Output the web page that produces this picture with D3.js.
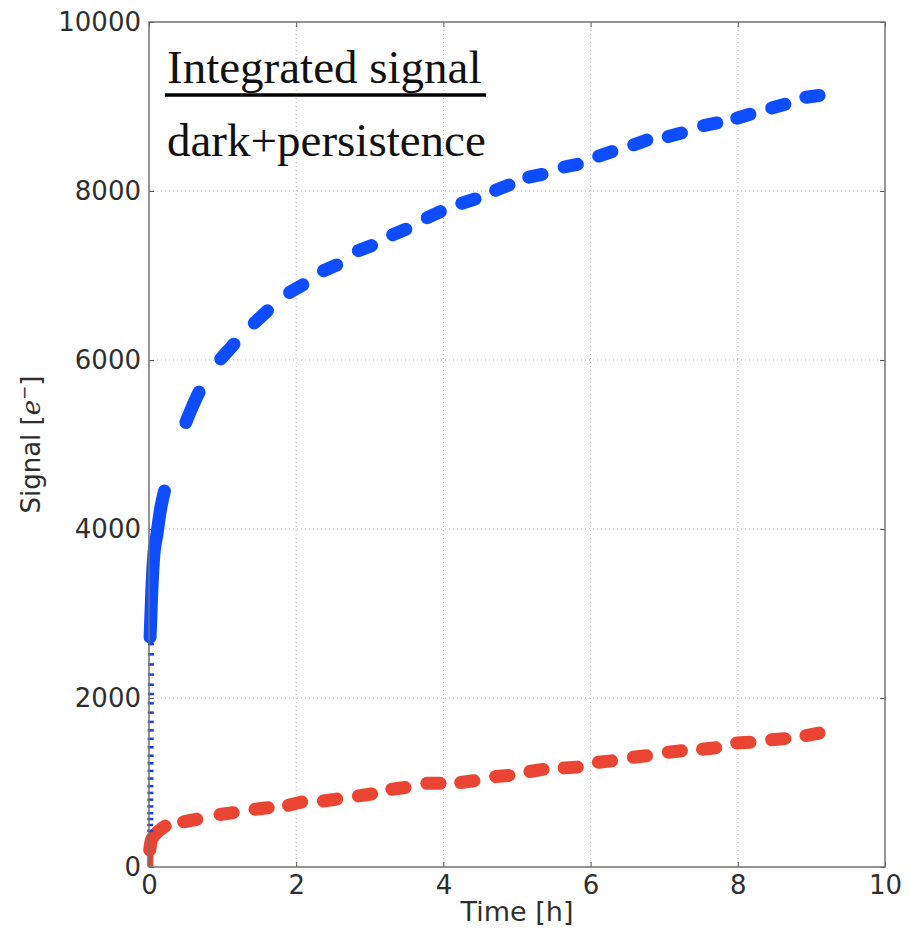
<!DOCTYPE html>
<meta charset="utf-8">
<style>
body { margin: 0; background: #fff; }
.tick text { font-family: "DejaVu Sans", sans-serif; font-size: 26px; fill: #2e2e2e; }
.grid line { stroke: #b8b8b8; stroke-width: 1; stroke-dasharray: 1,3; }
</style>
<body>
<svg width="909" height="932"></svg>
<script src="https://d3js.org/d3.v7.min.js"></script>
<script>

// axis ticks
var xTicks = [0, 2, 4, 6, 8, 10];
var yTicks = [0, 2000, 4000, 6000, 8000, 10000];

// first sparse samples right after t=0 (blue)
var blueEarly = [[0.003,430],[0.003,500],[0.004,570],[0.004,640],[0.005,720],[0.005,800],[0.006,880],
  [0.006,960],[0.007,1050],[0.007,1140],[0.008,1230],[0.008,1320],[0.009,1420],[0.009,1520],
  [0.010,1620],[0.010,1720],[0.011,1830],[0.011,1940],[0.012,2050],[0.012,2160],[0.013,2280],
  [0.013,2400],[0.014,2520],[0.014,2640]];
var redEarly = [[0.003,30],[0.003,80],[0.004,130],[0.005,180]];

// blue: dark+persistence, one entry per visit
var blueSegs = [
  [[0.015,2720],[0.035,3200],[0.06,3630],[0.11,3950],[0.16,4250],[0.21,4450]],
  [[0.50,5260],[0.59,5450],[0.68,5620]],
  [[0.975,6013],[1.155,6187]],
  [[1.43,6438],[1.61,6582]],
  [[1.91,6800],[2.09,6890]],
  [[2.37,7056],[2.55,7124]],
  [[2.845,7294],[3.025,7354]],
  [[3.31,7482],[3.49,7548]],
  [[3.78,7684],[3.96,7756]],
  [[4.25,7855],[4.43,7905]],
  [[4.71,8008],[4.89,8072]],
  [[5.16,8164],[5.34,8196]],
  [[5.64,8284],[5.82,8316]],
  [[6.11,8413],[6.29,8467]],
  [[6.585,8547],[6.765,8603]],
  [[7.055,8644],[7.235,8686]],
  [[7.535,8775],[7.715,8805]],
  [[7.985,8862],[8.165,8908]],
  [[8.46,8983],[8.64,9027]],
  [[8.925,9110],[9.105,9130]]
];

// red: integrated signal
var redSegs = [
  [[0.01,200],[0.03,310],[0.08,380],[0.15,440],[0.22,485]],
  [[0.47,535],[0.65,565]],
  [[0.965,622],[1.145,643]],
  [[1.44,684],[1.62,701]],
  [[1.895,730],[2.075,770]],
  [[2.37,781],[2.55,804]],
  [[2.845,841],[3.025,864]],
  [[3.30,920],[3.48,940]],
  [[3.775,990],[3.955,990]],
  [[4.235,1000],[4.415,1020]],
  [[4.71,1071],[4.89,1084]],
  [[5.175,1130],[5.355,1155]],
  [[5.64,1173],[5.82,1182]],
  [[6.105,1239],[6.285,1256]],
  [[6.58,1299],[6.76,1316]],
  [[7.055,1359],[7.235,1376]],
  [[7.52,1394],[7.70,1411]],
  [[7.985,1468],[8.165,1476]],
  [[8.46,1506],[8.64,1519]],
  [[8.925,1555],[9.105,1585]]
];

var svg = d3.select("svg"),
    margin = {top: 22, right: 24, bottom: 65, left: 149},
    width = 909 - margin.left - margin.right,
    height = 932 - margin.top - margin.bottom,
    g = svg.append("g").attr("transform", "translate(" + margin.left + "," + margin.top + ")");

// soft edge for the point clouds
svg.append("defs").append("filter").attr("id", "soft")
  .append("feGaussianBlur").attr("stdDeviation", 0.7);

var x = d3.scaleLinear().domain([0, 10]).range([0, width]);
var y = d3.scaleLinear().domain([0, 10000]).range([height, 0]);

// grid
g.append("g").attr("class", "grid")
  .selectAll("line").data(xTicks.slice(1, -1)).enter().append("line")
    .attr("x1", x).attr("x2", x).attr("y1", 0).attr("y2", height);
g.append("g").attr("class", "grid")
  .selectAll("line").data(yTicks.slice(1, -1)).enter().append("line")
    .attr("y1", y).attr("y2", y).attr("x1", 0).attr("x2", width);

var line = d3.line().x(function(d) { return x(d[0]); }).y(function(d) { return y(d[1]); })
  .curve(d3.curveMonotoneX);

// red series
var red = g.append("g").attr("filter", "url(#soft)");
red.selectAll("rect").data(redEarly).enter().append("rect")
    .attr("x", function(d) { return x(d[0]) - 2; })
    .attr("y", function(d) { return y(d[1]) - 3; })
    .attr("width", 6).attr("height", 5)
    .attr("fill", "#ea4430");
red.selectAll("path").data(redSegs).enter().append("path")
    .attr("d", line)
    .attr("fill", "none")
    .attr("stroke", "#ea4430")
    .attr("stroke-width", 13)
    .attr("stroke-linecap", "round");

// blue series
var blue = g.append("g").attr("filter", "url(#soft)");
blue.selectAll("rect").data(blueEarly).enter().append("rect")
    .attr("x", function(d) { return x(d[0]) - 2; })
    .attr("y", function(d) { return y(d[1]) - 1; })
    .attr("width", 6).attr("height", 2.5)
    .attr("fill", "#1a3fe0");
blue.selectAll("path").data(blueSegs).enter().append("path")
    .attr("d", line)
    .attr("fill", "none")
    .attr("stroke", "#0a4dff")
    .attr("stroke-width", 13)
    .attr("stroke-linecap", "round");

// axes, ticks pointing inward
g.append("g")
    .attr("transform", "translate(0," + height + ")")
    .call(d3.axisBottom(x).tickValues(xTicks).tickSize(-5).tickPadding(9));
g.append("g")
    .call(d3.axisLeft(y).tickValues(yTicks).tickFormat(d3.format("d")).tickSize(-5).tickPadding(8));
g.append("g").call(d3.axisTop(x).tickValues(xTicks).tickSize(-5).tickFormat(""));
g.append("g").attr("transform", "translate(" + width + ",0)")
    .call(d3.axisRight(y).tickValues(yTicks).tickSize(-5).tickFormat(""));
g.selectAll(".domain").remove();
g.selectAll(".tick line").attr("stroke", "#555");

// frame
g.append("rect")
    .attr("width", width).attr("height", height)
    .attr("fill", "none").attr("stroke", "#707070").attr("stroke-width", 1.5);

// axis labels
svg.append("text")
    .attr("x", margin.left + width / 2).attr("y", 921)
    .attr("text-anchor", "middle")
    .attr("font-family", "DejaVu Sans, sans-serif").attr("font-size", 27).attr("fill", "#2e2e2e")
    .text("Time [h]");

var yl = svg.append("text")
    .attr("transform", "translate(40," + (margin.top + height / 2) + ") rotate(-90)")
    .attr("text-anchor", "middle")
    .attr("font-family", "DejaVu Sans, sans-serif").attr("font-size", 26).attr("fill", "#2e2e2e");
yl.append("tspan").text("Signal [");
yl.append("tspan").attr("font-style", "italic").attr("font-family", "DejaVu Serif, serif").text("e");
yl.append("tspan").attr("dy", -10).attr("font-size", 17).text("\u2212");
yl.append("tspan").attr("dy", 10).text("]");

// annotation
svg.append("text")
    .attr("x", 167).attr("y", 83)
    .attr("font-family", "Liberation Serif, serif").attr("font-size", 47).attr("fill", "#111")
    .text("Integrated signal");
svg.append("line")
    .attr("x1", 165).attr("x2", 486).attr("y1", 95).attr("y2", 95)
    .attr("stroke", "#000").attr("stroke-width", 3.5);
svg.append("text")
    .attr("x", 167).attr("y", 156)
    .attr("font-family", "Liberation Serif, serif").attr("font-size", 47).attr("fill", "#111")
    .text("dark+persistence");

</script>
</body>
